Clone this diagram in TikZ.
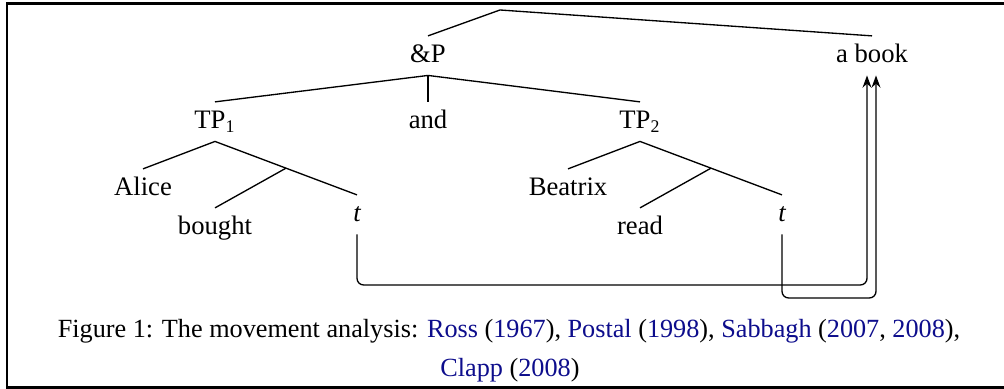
\documentclass[tikz,border=0pt]{standalone}
\usepackage{fontspec}
\setmainfont{Liberation Serif}
\usetikzlibrary{calc,arrows.meta}
\definecolor{citeblue}{rgb}{0.05,0.05,0.55}
\newcommand{\cy}[1]{\textcolor{citeblue}{#1}}

\begin{document}
\begin{tikzpicture}[x=0.45pt,y=-0.45pt,
    every node/.style={font=\fontsize{12}{14.4}\selectfont},
    lbl/.style={inner xsep=0pt,inner ysep=3pt,text height=9pt,text depth=2.4pt,anchor=base},
    capline/.style={anchor=base,font=\fontsize{11.8}{14}\selectfont},
    branch/.style={line width=0.6pt},
    mv/.style={line width=0.6pt,rounded corners=3pt,-{Stealth[length=5.5pt,width=4pt]}}]
        \useasboundingbox (0,0) rectangle (1004,389);
        \draw[line width=1.3pt] (1004,3.5) -- (7,3.5) -- (7,387.5) -- (1004,387.5);
        \coordinate (root) at (500,10);
        \node[lbl] (andP) at (428,63) {\&P};
        \node[lbl] (book) at (872,63) {a book};
        \node[lbl] (TPa) at (215,129) {TP\textsubscript{1}};
        \node[lbl] (and) at (428,129) {and};
        \node[lbl] (TPb) at (640,129) {TP\textsubscript{2}};
        \node[lbl] (Alice) at (143,196) {Alice};
        \node[lbl] (ta) at (357,222) {\itshape t};
        \node[lbl] (bought) at (215,235) {bought};
        \node[lbl] (Beatrix) at (568,196) {Beatrix};
        \node[lbl] (tb) at (782,222) {\itshape t};
        \node[lbl] (read) at (640,235) {read};
        \coordinate (Ba) at ($(TPa.south)!0.5!(ta.north)$);
        \coordinate (Bb) at ($(TPb.south)!0.5!(tb.north)$);
        \draw[branch] (andP.north) -- (root) -- (book.north);
        \draw[branch] (TPa.north) -- (andP.south) -- (TPb.north);
        \draw[branch] (andP.south) -- (and.north);
        \draw[branch] (Alice.north) -- (TPa.south) -- (ta.north);
        \draw[branch] (Ba) -- (bought.north);
        \draw[branch] (Beatrix.north) -- (TPb.south) -- (tb.north);
        \draw[branch] (Bb) -- (read.north);
        \coordinate (lowa) at (600,285);
        \coordinate (lowb) at (830,298);
        \draw[mv] (ta.south) |- (lowa) -| ($(book.south)+(-5,0)$);
        \draw[mv] (tb.south) |- (lowb) -| ($(book.south)+(4,0)$);
        \node[capline] (capa) at (509,338) {Figure 1: The movement analysis: \cy{Ross} (\cy{1967}), \cy{Postal} (\cy{1998}), \cy{Sabbagh} (\cy{2007}, \cy{2008}),};
        \node[capline] (capb) at (510,377) {\cy{Clapp} (\cy{2008})};
    \end{tikzpicture}
\end{document}
